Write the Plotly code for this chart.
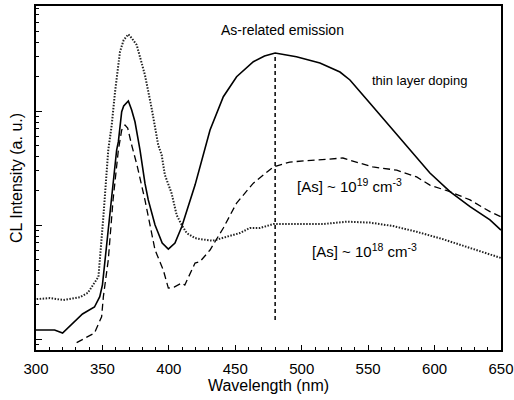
import plotly.graph_objects as go

# Wavelength (nm) and CL intensity (a.u., log scale)
thin_x = [300, 314, 320, 335, 344, 348, 350, 352, 354.4, 357.5, 360.7, 362, 364.5, 366, 369.5,
          372, 374.5, 378.3, 382, 384.5, 389.6, 392, 395, 399.6, 404.6, 409.7, 419.7, 431, 441,
          451, 463.6, 472, 480, 496, 513.7, 528.8, 536.3, 551.4, 566.4, 581.5, 596.5, 611.6,
          626.7, 641.7, 650]
thin_y = [12.0, 12.0, 11.3, 16.6, 19.1, 23.5, 29.8, 49.3, 96.6, 203, 455, 538, 986, 1106, 1224,
          1020, 805, 455, 233, 166, 100, 85.1, 69.5, 61.5, 69.5, 96.6, 224, 681, 1335,
          2000, 2704, 3034, 3228, 2993, 2636, 2198, 1871, 1169, 728, 455, 286, 196,
          145, 111, 90.3]

as19_x = [330.6, 344, 349.4, 350.7, 354.4, 358, 362, 364.5, 367, 369, 372, 376, 382, 389.6,
          395.8, 399.6, 404, 409.7, 412, 419.7, 423.4, 431, 441, 451, 463.6, 478.6, 491, 508.5,
          531, 541, 553.6, 571.5, 586.5, 596.5, 611.6, 626.7, 641.7, 650]
as19_y = [9.3, 11.3, 15.7, 23.5, 49.3, 166, 455, 681, 754, 710, 503, 336, 166, 60.4,
          40.3, 28.0, 28.6, 31.0, 29.8, 46.4, 47.7, 60.4, 94.2, 156, 233, 323, 357, 372,
          387, 357, 323, 303, 264, 224, 196, 166, 131, 118]

as18_x = [300.5, 310.5, 320.5, 333, 339, 344, 347, 350.7, 354.4, 357, 359.5, 363.2, 366, 369.5,
          372, 375.8, 382, 387, 392, 394.6, 397, 402, 405.9, 409.7, 413.4, 419.7, 423.4, 433,
          443.5, 453.5, 461, 468.6, 478.6, 498.7, 516, 533.8, 551.4, 568.7, 586.5, 606, 624,
          636.5, 647.7, 650]
as18_y = [22.4, 22.9, 22.0, 23.3, 25.4, 31.0, 35.2, 118, 455, 754, 1476, 3311, 4200, 4710,
          4365, 3793, 2070, 1062, 503, 411, 275, 191, 122, 100, 85.1, 76.9, 75.3, 72.8,
          78.9, 85.1, 94.2, 94.2, 102, 102, 102, 107, 105, 98, 87.3, 75.3, 64.5,
          58.4, 52.7, 51.4]

marker_x = [480, 480]
marker_y = [14.7, 3228]

x_ticks = [300, 350, 400, 450, 500, 550, 600, 650]
y_major = [10, 100, 1000]
y_minor = [m * 10 ** e for e in range(0, 4) for m in range(2, 10)]

FONT = "Arial, Liberation Sans, Helvetica, sans-serif"

fig = go.Figure()
fig.add_trace(go.Scatter(x=marker_x, y=marker_y, mode="lines",
                         line=dict(color="black", width=1.5, dash="4px,3px")))
fig.add_trace(go.Scatter(x=as18_x, y=as18_y, mode="lines",
                         line=dict(color="#222", width=2, dash="1.5px,1.5px")))
fig.add_trace(go.Scatter(x=as19_x, y=as19_y, mode="lines",
                         line=dict(color="black", width=1.3, dash="7px,4px")))
fig.add_trace(go.Scatter(x=thin_x, y=thin_y, mode="lines",
                         line=dict(color="black", width=1.6)))

def label(x, ylog, text, size):
    fig.add_annotation(x=x, y=ylog, xref="x", yref="y", text=text, showarrow=False,
                       font=dict(family=FONT, size=size, color="black"))

label(485.9, 3.711, "As-related emission", 14)
label(588.7, 3.272, "thin layer doping", 13)
label(535.6, 2.351, "[As] ~ 10<sup>19</sup> cm<sup>-3</sup>", 15)
label(546.9, 1.781, "[As] ~ 10<sup>18</sup> cm<sup>-3</sup>", 15)

fig.update_layout(
    width=514, height=400,
    margin=dict(l=36, r=13, t=6, b=50),
    paper_bgcolor="white", plot_bgcolor="white",
    showlegend=False, hovermode=False,
    font=dict(family=FONT, color="black"),
    xaxis=dict(range=[300, 650], tickvals=x_ticks, ticks="inside", ticklen=5,
               tickcolor="black", showline=True, linecolor="black", linewidth=1.5,
               mirror=True, showgrid=False, zeroline=False, automargin=False,
               tickfont=dict(size=15), ticklabelstandoff=4,
               minor=dict(dtick=10, ticks="inside", ticklen=3, tickcolor="black", showgrid=False),
               title=dict(text="Wavelength (nm)", font=dict(size=16), standoff=0)),
    yaxis=dict(type="log", range=[0.904, 3.921], tickvals=y_major, ticks="inside", ticklen=6,
               tickcolor="black", showline=True, linecolor="black", linewidth=1.5,
               mirror=True, showgrid=False, zeroline=False, showticklabels=False,
               automargin=False,
               minor=dict(tickvals=y_minor, ticks="inside", ticklen=3, tickcolor="black", showgrid=False),
               title=dict(text="CL Intensity (a. u.)", font=dict(size=16), standoff=8)),
)
fig.write_html("out.html", config={"displayModeBar": False},
               post_script="document.body.style.margin='0';document.body.style.overflow='hidden';")
